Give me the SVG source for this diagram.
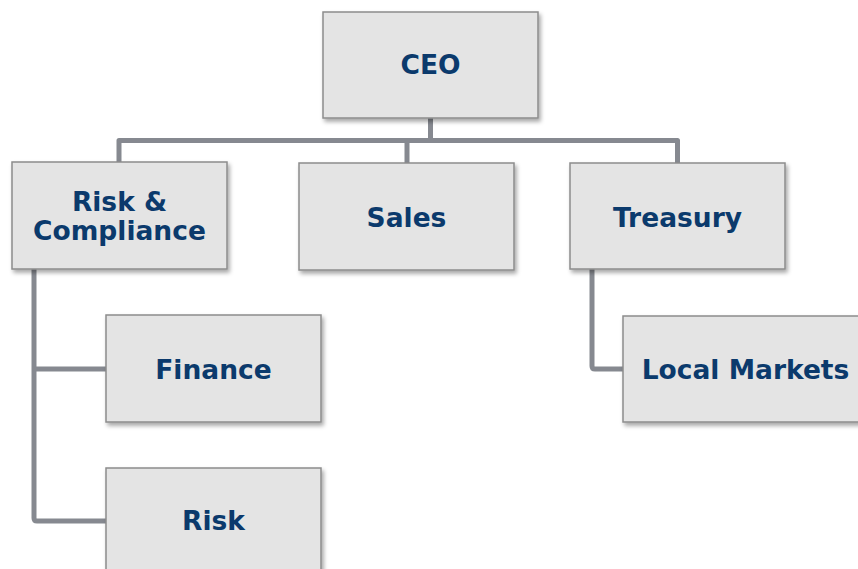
<svg xmlns="http://www.w3.org/2000/svg" width="858" height="569" viewBox="0 0 858 569">
<style>
.box{fill:#e4e4e4;stroke:#8c8c8c;stroke-width:1.5;filter:url(#sh)}
.lbl{font-family:"DejaVu Sans",Verdana,sans-serif;font-weight:bold;font-size:26.5px;fill:#0b3a6c;text-anchor:middle}
.con{fill:none;stroke:#868990;stroke-width:5;stroke-linejoin:round}
</style>
<defs>
<filter id="sh" x="-10%" y="-10%" width="125%" height="130%">
<feDropShadow dx="2" dy="3" stdDeviation="2" flood-color="#000" flood-opacity="0.35"/>
</filter>
</defs>
<rect width="858" height="569" fill="#ffffff"/>
<g id="connectors">
<path class="con" d="M430.5 118 V140.5 M119 162 V140.5 H677.5 V163 M407 140.5 V163"/>
<path class="con" d="M34 269 V518 Q34 521 37 521 H106 M34 369 H106"/>
<path class="con" d="M592 269 V366 Q592 369 595 369 H623"/>
</g>
<g id="ceo"><rect class="box" x="323" y="12" width="215" height="106"/><text class="lbl" x="430.5" y="74">CEO</text></g>
<g id="risk-compliance"><rect class="box" x="12" y="162" width="215" height="107"/><text class="lbl" x="119.5" y="211">Risk &amp;</text><text class="lbl" x="119.5" y="240">Compliance</text></g>
<g id="sales"><rect class="box" x="299" y="163" width="215" height="107"/><text class="lbl" x="406.5" y="227">Sales</text></g>
<g id="treasury"><rect class="box" x="570" y="163" width="215" height="106"/><text class="lbl" x="677.5" y="227">Treasury</text></g>
<g id="finance"><rect class="box" x="106" y="315" width="215" height="107"/><text class="lbl" x="213.5" y="379">Finance</text></g>
<g id="local-markets"><rect class="box" x="623" y="316" width="245" height="106"/><text class="lbl" x="745.5" y="379">Local Markets</text></g>
<g id="risk"><rect class="box" x="106" y="468" width="215" height="107"/><text class="lbl" x="213.5" y="530">Risk</text></g>
</svg>
